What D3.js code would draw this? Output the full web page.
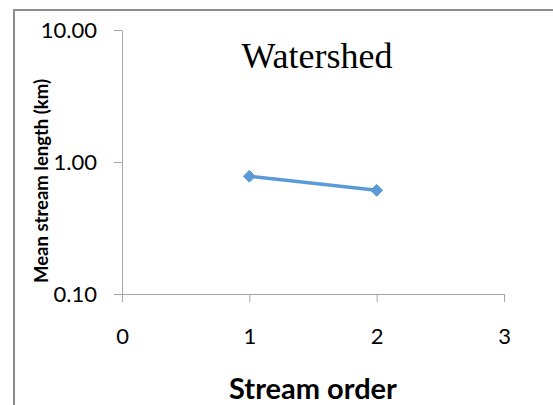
<!DOCTYPE html>
<html>
<head>
<meta charset="utf-8">
<script src="https://cdn.jsdelivr.net/npm/d3@7"></script>
<style>
  body { margin: 0; background: #fff; }
</style>
</head>
<body>
<div id="chart"></div>
<script>
// data
const orders = [1, 2];
const meanLength = [0.78, 0.61];
const xTicks = [0, 1, 2, 3];
const yTicks = [0.1, 1, 10];

const W = 553, H = 405;
const margin = { top: 30, left: 122, bottom: 111, right: 49 };
const width = W - margin.left - margin.right;
const height = H - margin.top - margin.bottom;
const font = "Lato, 'Open Sans', sans-serif";

const svg = d3.select("#chart").append("svg")
  .attr("width", W)
  .attr("height", H);

// outer chart frame (runs off the right/bottom of the picture)
svg.append("rect")
  .attr("x", 14).attr("y", 10)
  .attr("width", W + 20).attr("height", H + 20)
  .attr("fill", "none")
  .attr("stroke", "#8c8c8c")
  .attr("stroke-width", 2);

const g = svg.append("g").attr("transform", `translate(${margin.left},${margin.top})`);

const x = d3.scaleLinear().domain([0, 3]).range([0, width]);
const y = d3.scaleLog().domain([0.1, 10]).range([height, 0]);

// Y axis
const yAxis = g.append("g")
  .call(d3.axisLeft(y).tickValues(yTicks).tickFormat(d3.format(".2f")).tickSize(8).tickPadding(17).tickSizeOuter(0));
yAxis.select(".domain").attr("stroke", "#a6a6a6");
yAxis.selectAll(".tick line").attr("stroke", "#a6a6a6");
yAxis.selectAll("text")
  .attr("font-family", font)
  .attr("font-size", "22px")
  .attr("fill", "#000");

// X axis
const xAxis = g.append("g")
  .attr("transform", `translate(0,${height})`)
  .call(d3.axisBottom(x).tickValues(xTicks).tickFormat(d3.format("d")).tickSize(8).tickPadding(26).tickSizeOuter(0));
xAxis.select(".domain").attr("stroke", "#a6a6a6");
xAxis.selectAll(".tick line").attr("stroke", "#a6a6a6");
xAxis.selectAll("text")
  .attr("font-family", font)
  .attr("font-size", "22px")
  .attr("fill", "#000");

// line
const pts = orders.map((o, i) => ({ x: o, y: meanLength[i] }));
g.append("path")
  .datum(pts)
  .attr("fill", "none")
  .attr("stroke", "#5b9bd5")
  .attr("stroke-width", 3.5)
  .attr("d", d3.line().x(d => x(d.x)).y(d => y(d.y)));

g.selectAll(".pt")
  .data(pts)
  .enter().append("path")
  .attr("class", "pt")
  .attr("transform", d => `translate(${x(d.x)},${y(d.y)})`)
  .attr("d", d3.symbol().type(d3.symbolDiamond2).size(90))
  .attr("fill", "#5b9bd5")
  .attr("stroke", "#5b9bd5");

// title
svg.append("text")
  .attr("x", 317).attr("y", 68)
  .attr("text-anchor", "middle")
  .attr("font-family", "'Liberation Serif', 'DejaVu Serif', serif")
  .attr("font-size", "36px")
  .text("Watershed");

// axis labels
svg.append("text")
  .attr("x", margin.left + width / 2).attr("y", 399)
  .attr("text-anchor", "middle")
  .attr("font-family", font)
  .attr("font-weight", "bold")
  .attr("font-size", "29px")
  .text("Stream order");

svg.append("text")
  .attr("transform", "translate(48,181) rotate(-90)")
  .attr("text-anchor", "middle")
  .attr("font-family", font)
  .attr("font-weight", "bold")
  .attr("font-size", "18.5px")
  .text("Mean stream length (km)");
</script>
</body>
</html>
